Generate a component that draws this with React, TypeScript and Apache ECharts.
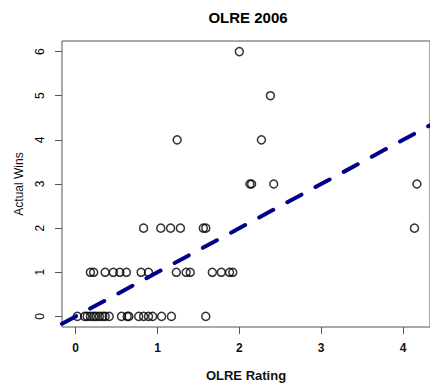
import React, { useEffect, useRef } from "react";
import * as echarts from "echarts";

// OLRE rating of each team, grouped by actual wins
const ratingsWins0 = [0.02, 0.11, 0.14, 0.18, 0.22, 0.25, 0.29, 0.33, 0.36, 0.41, 0.56, 0.63, 0.65, 0.77, 0.83, 0.89, 0.94, 1.05, 1.17, 1.59];
const ratingsWins1 = [0.18, 0.22, 0.36, 0.46, 0.54, 0.62, 0.8, 0.89, 1.23, 1.35, 1.4, 1.67, 1.78, 1.88, 1.92];
const ratingsWins2 = [0.83, 1.04, 1.16, 1.28, 1.56, 1.59, 4.14];
const ratingsWins3 = [2.13, 2.15, 2.42, 4.17];
const ratingsWins4 = [1.24, 2.27];
const ratingsWins5 = [2.38];
const ratingsWins6 = [2.0];

const groups: [number, number[]][] = [
  [0, ratingsWins0],
  [1, ratingsWins1],
  [2, ratingsWins2],
  [3, ratingsWins3],
  [4, ratingsWins4],
  [5, ratingsWins5],
  [6, ratingsWins6],
];

// reference line y = intercept + slope * x
const lineIntercept = 0;
const lineSlope = 1.0;

const xTicks = [0, 1, 2, 3, 4];
const yTicks = [0, 1, 2, 3, 4, 5, 6];
const xMin = -0.167;
const xMax = 4.33;
const yMin = -0.24;
const yMax = 6.24;

export default function App() {
  const ref = useRef<HTMLDivElement>(null);
  useEffect(() => {
    document.body.style.margin = "0";
    if (!ref.current) return;
    const chart = echarts.init(ref.current, null, { renderer: "svg" });
    const points: number[][] = [];
    groups.forEach(([w, xs]) => xs.forEach((x) => points.push([x, w])));
    const linePts = [
      [xMin, lineIntercept + lineSlope * xMin],
      [xMax, lineIntercept + lineSlope * xMax],
    ];
    const font = "'Liberation Sans', Arial, sans-serif";
    chart.setOption({
      animation: false,
      backgroundColor: "#fff",
      title: {
        text: "OLRE 2006",
        left: 248,
        top: 10,
        padding: 0,
        textAlign: "center",
        textStyle: { fontFamily: font, fontSize: 15, fontWeight: "bold", color: "#000" },
      },
      grid: {
        left: 62,
        top: 41,
        bottom: 54,
        right: -4.5,
        show: true,
        borderColor: "#555",
        borderWidth: 1,
        backgroundColor: "transparent",
      },
      xAxis: {
        type: "value",
        min: xMin,
        max: xMax,
        name: "OLRE Rating",
        nameLocation: "middle",
        nameGap: 42,
        nameTextStyle: { fontFamily: font, fontSize: 13, fontWeight: "bold", color: "#111" },
        axisLine: { show: false, onZero: false },
        splitLine: { show: false },
        axisTick: { show: true, inside: false, length: 7, customValues: xTicks, lineStyle: { color: "#555" } },
        axisLabel: {
          customValues: xTicks,
          margin: 15,
          fontFamily: font,
          fontSize: 12,
          fontWeight: "bold",
          color: "#111",
        },
      },
      yAxis: {
        type: "value",
        min: yMin,
        max: yMax,
        name: "Actual Wins",
        nameLocation: "middle",
        nameGap: 37,
        nameRotate: 90,
        nameTextStyle: { fontFamily: font, fontSize: 12, color: "#111" },
        axisLine: { show: false, onZero: false },
        splitLine: { show: false },
        axisTick: { show: true, inside: false, length: 7, customValues: yTicks, lineStyle: { color: "#555" } },
        axisLabel: {
          customValues: yTicks,
          rotate: 90,
          margin: 16,
          fontFamily: font,
          fontSize: 12,
          color: "#000",
        },
      },
      series: [
        {
          type: "scatter",
          data: points,
          symbol: "circle",
          symbolSize: 8,
          itemStyle: { color: "transparent", borderColor: "#000", borderWidth: 1.5 },
          z: 2,
        },
        {
          type: "line",
          data: linePts,
          showSymbol: false,
          symbol: "none",
          clip: true,
          lineStyle: { color: "#00008B", width: 4, type: [16, 16], cap: "round" },
          z: 3,
        },
      ],
    });
    return () => chart.dispose();
  }, []);
  return <div ref={ref} style={{ width: 430, height: 387 }} />;
}
